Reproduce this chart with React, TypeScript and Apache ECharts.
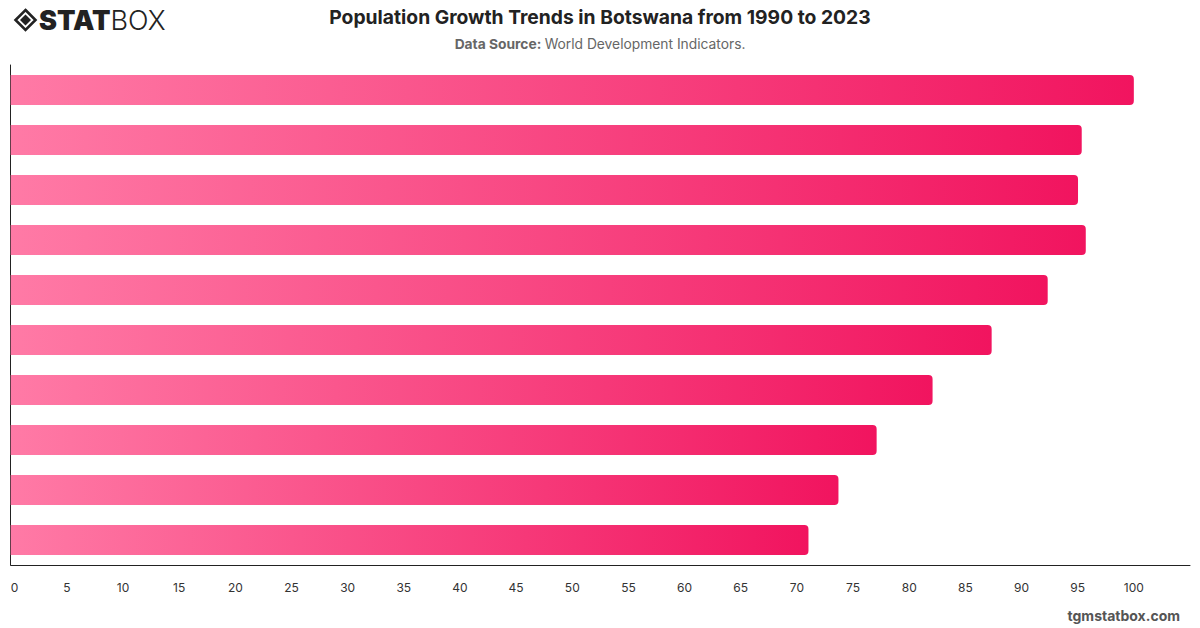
import React, { useEffect, useRef } from "react";
import * as echarts from "echarts";

// Ten yearly snapshots, most recent at the top
const categories = ["2023", "2020", "2016", "2013", "2010", "2006", "2003", "2000", "1995", "1990"];
const values = [100.0, 95.36, 95.03, 95.72, 92.33, 87.34, 82.08, 77.1, 73.7, 71.03];
const xTicks = { min: 0, max: 105, interval: 5 };

const titleText = "Population Growth Trends in Botswana from 1990 to 2023";
const sourceLabel = "Data Source:";
const sourceText = "World Development Indicators.";
const footerText = "tgmstatbox.com";

export default function App() {
  const ref = useRef<HTMLDivElement>(null);

  useEffect(() => {
    if (!ref.current) return;
    const chart = echarts.init(ref.current, null, { renderer: "svg" });
    const font = "Inter, 'Noto Sans', sans-serif";

    chart.setOption({
      animation: false,
      backgroundColor: "#ffffff",
      grid: { left: 10.7, right: 10, top: 65, bottom: 63, containLabel: false },
      xAxis: {
        type: "value",
        min: xTicks.min,
        max: xTicks.max,
        interval: xTicks.interval,
        axisLine: { show: true, lineStyle: { color: "#222", width: 1 } },
        axisTick: { show: false },
        splitLine: { show: false },
        axisLabel: {
          color: "#333",
          fontSize: 12,
          fontFamily: font,
          margin: 16,
          showMaxLabel: false,
          alignMinLabel: "left",
        },
      },
      yAxis: {
        type: "category",
        data: categories,
        inverse: true,
        axisLine: { show: true, lineStyle: { color: "#222", width: 1 } },
        axisTick: { show: false },
        axisLabel: { show: false },
        splitLine: { show: false },
      },
      series: [
        {
          type: "bar",
          data: values,
          barWidth: 30,
          itemStyle: {
            borderRadius: [0, 4, 4, 0],
            color: new echarts.graphic.LinearGradient(0, 0, 1, 0, [
              { offset: 0, color: "#FF7AA6" },
              { offset: 1, color: "#F1145F" },
            ]),
          },
        },
      ],
      graphic: [
        // logo mark: outlined diamond with a solid inner diamond
        {
          type: "polygon",
          shape: { points: [[25.5, 10], [35.5, 20], [25.5, 30], [15.5, 20]] },
          style: { fill: "none", stroke: "#222", lineWidth: 2.6 },
        },
        {
          type: "polygon",
          shape: { points: [[25.5, 14.5], [31, 20], [25.5, 25.5], [20, 20]] },
          style: { fill: "#222" },
        },
        {
          type: "text",
          x: 39,
          y: 20,
          style: {
            text: "{a|STAT}{b|BOX}",
            verticalAlign: "middle",
            rich: {
              a: { fontFamily: font, fontSize: 27, fontWeight: 900, fill: "#222" },
              b: { fontFamily: font, fontSize: 27, fontWeight: 300, fill: "#222" },
            },
          },
        },
        {
          type: "text",
          x: 600,
          y: 17,
          style: {
            text: titleText,
            fontFamily: font,
            fontSize: 19.3,
            fontWeight: 700,
            fill: "#222",
            align: "center",
            verticalAlign: "middle",
          },
        },
        {
          type: "text",
          x: 600,
          y: 44,
          style: {
            text: `{b|${sourceLabel}} {r|${sourceText}}`,
            align: "center",
            verticalAlign: "middle",
            rich: {
              b: { fontFamily: font, fontSize: 13.8, fontWeight: 700, fill: "#666" },
              r: { fontFamily: font, fontSize: 13.8, fontWeight: 400, fill: "#666" },
            },
          },
        },
        {
          type: "text",
          x: 1180,
          y: 615,
          style: {
            text: footerText,
            fontFamily: font,
            fontSize: 14,
            fontWeight: 700,
            fill: "#555",
            align: "right",
            verticalAlign: "middle",
          },
        },
      ],
    });

    return () => chart.dispose();
  }, []);

  return (
    <div
      ref={ref}
      style={{ position: "fixed", left: 0, top: 0, width: 1200, height: 628, background: "#fff" }}
    />
  );
}
